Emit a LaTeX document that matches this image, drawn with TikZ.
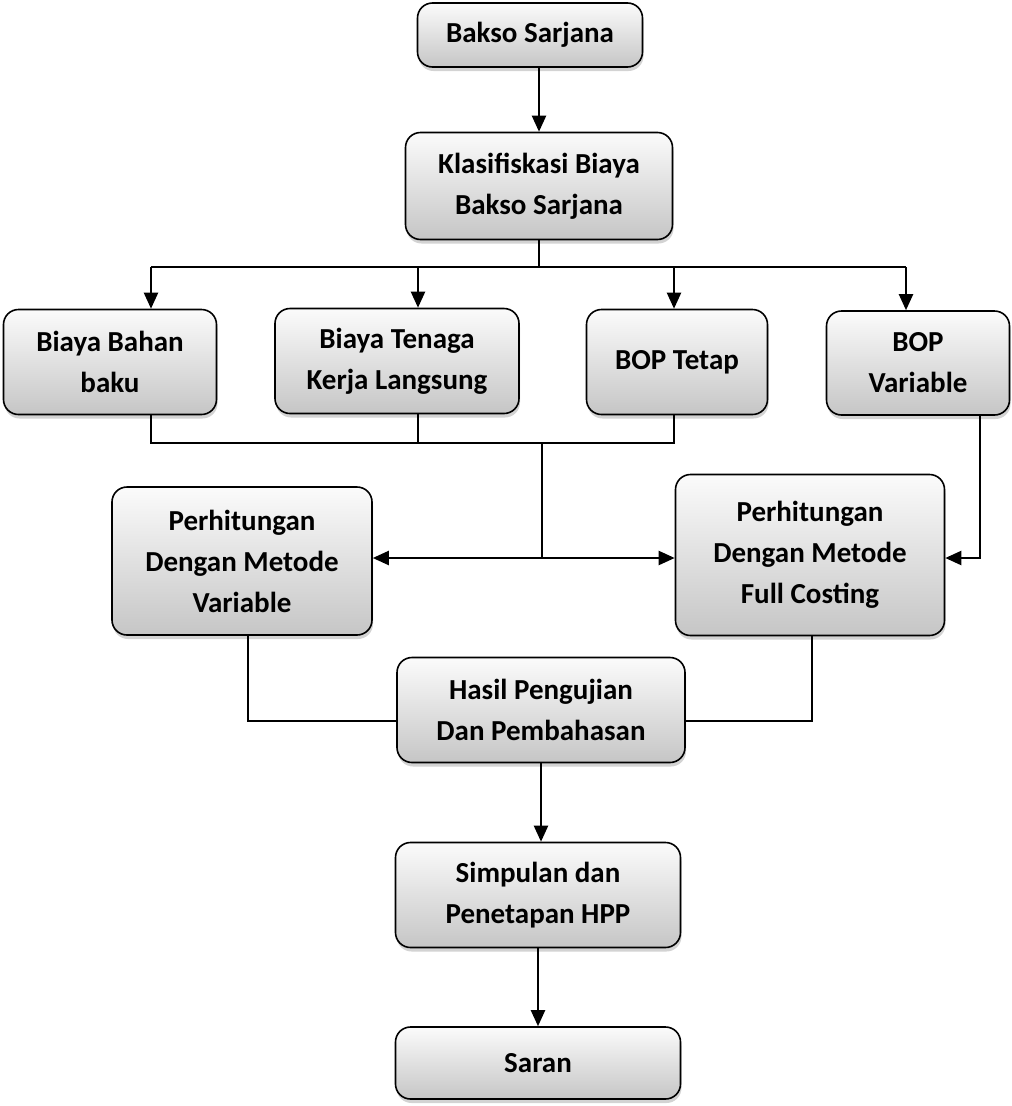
\documentclass[tikz,border=0pt]{standalone}
\usepackage{fontspec}
\setmainfont{Carlito}
\usetikzlibrary{arrows.meta, positioning, calc, shadows}

\begin{document}
\begin{tikzpicture}[x=1pt, y=-1pt, auto]
    % Styles
    \tikzstyle{block} = [rectangle, draw, line width=1.6pt, rounded corners=15pt, top color=gray!3, bottom color=gray!45, drop shadow={shadow xshift=1pt, shadow yshift=-4pt, opacity=0.35, fill=gray}, align=center, inner sep=0pt, font=\fontsize{29}{41}\selectfont\bfseries]
    \tikzstyle{line} = [draw, line width=2.2pt, -{Triangle[length=16pt, width=14pt]}]
    \tikzstyle{both} = [draw, line width=2.2pt, {Triangle[length=16pt, width=14pt]}-{Triangle[length=16pt, width=14pt]}]
    \tikzstyle{wire} = [draw, line width=1.6pt]

    \useasboundingbox (0,0) rectangle (1012,1106);

    % --- TOP ---
    \node [block, minimum width=225pt, minimum height=64pt] (bakso) at (530,35) {Bakso Sarjana};
    \node [block, minimum width=267pt, minimum height=107pt] (klas) at (539,186) {Klasifiskasi Biaya\\Bakso Sarjana};

    % --- COST GROUPS ---
    \node [block, minimum width=213pt, minimum height=105pt] (bahan) at (110,362) {Biaya Bahan\\baku};
    \node [block, minimum width=244pt, minimum height=105pt] (tenaga) at (397,361) {Biaya Tenaga\\Kerja Langsung};
    \node [block, minimum width=181pt, minimum height=105pt] (tetap) at (677,362) {BOP Tetap};
    \node [block, minimum width=183pt, minimum height=104pt] (bopvar) at (918,363) {BOP\\Variable};

    % --- METHODS ---
    \node [block, minimum width=260pt, minimum height=148pt] (pvar) at (242,561) {Perhitungan\\Dengan Metode\\Variable};
    \node [block, minimum width=269pt, minimum height=161pt] (pfull) at (810,555) {Perhitungan\\Dengan Metode\\Full Costing};

    % --- RESULTS ---
    \node [block, minimum width=288pt, minimum height=105pt] (hasil) at (541,710) {Hasil Pengujian\\Dan Pembahasan};
    \node [block, minimum width=285pt, minimum height=105pt] (simp) at (538,895) {Simpulan dan\\Penetapan HPP};
    \node [block, minimum width=285pt, minimum height=72pt] (saran) at (538,1063) {Saran};

    % --- JUNCTIONS ---
    \coordinate (split) at (541,267);
    \coordinate (merge) at (542,443);
    \coordinate (mid) at (542,558);
    \coordinate (join) at (541,721);

    % --- CONNECTIONS ---
    \path [line] (bakso.south -| klas.north) -- (klas.north);
    \draw [wire] (klas.south) -- (klas.south |- split);
    \draw [wire] ([xshift=41pt]bahan.north |- split) -- ([xshift=-12pt]bopvar.north |- split);
    \path [line] ([xshift=41pt]bahan.north |- split) -- ([xshift=41pt]bahan.north);
    \path [line] ([xshift=21pt]tenaga.north |- split) -- ([xshift=21pt]tenaga.north);
    \path [line] ([xshift=-3pt]tetap.north |- split) -- ([xshift=-3pt]tetap.north);
    \path [line] ([xshift=-12pt]bopvar.north |- split) -- ([xshift=-12pt]bopvar.north);

    % collecting lines below the cost groups
    \draw [wire] ([xshift=41pt]bahan.south) -- ([xshift=41pt]bahan.south |- merge) -- ([xshift=-3pt]tetap.south |- merge) -- ([xshift=-3pt]tetap.south);
    \draw [wire] ([xshift=21pt]tenaga.south) -- ([xshift=21pt]tenaga.south |- merge);
    \draw [wire] (merge) -- (mid);
    \path [both] (pvar.east |- mid) -- (pfull.west |- mid);
    \path [line] ([xshift=62pt]bopvar.south) -- ([xshift=62pt]bopvar.south |- mid) -- (pfull.east |- mid);

    % methods into results
    \draw [wire] ([xshift=6pt]pvar.south) -- ([xshift=6pt]pvar.south |- join) -- (hasil.west |- join);
    \draw [wire] ([xshift=2pt]pfull.south) -- ([xshift=2pt]pfull.south |- join) -- (hasil.east |- join);
    \path [line] (hasil.south) -- (hasil.south |- simp.north);
    \path [line] (simp.south) -- (saran.north);

\end{tikzpicture}
\end{document}
